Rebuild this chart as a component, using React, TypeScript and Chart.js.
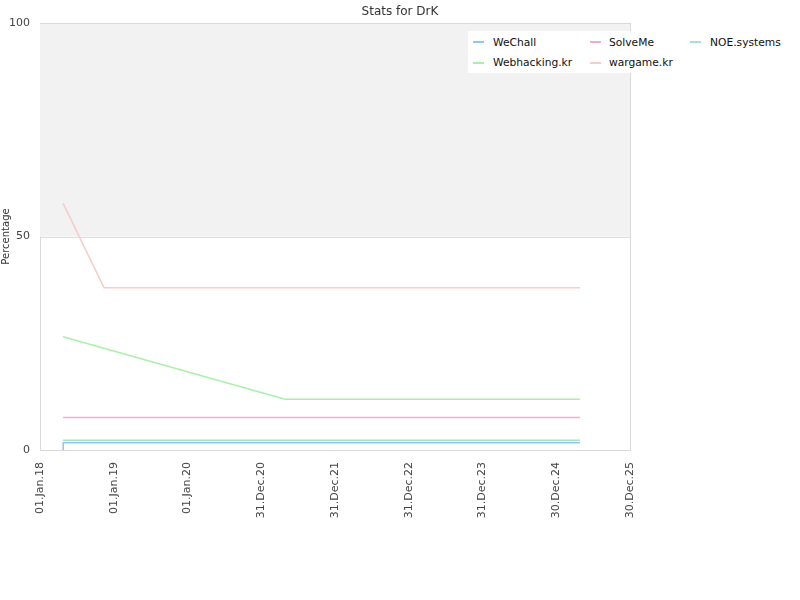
import React, { useEffect, useRef } from "react";
import { Chart, registerables } from "chart.js";

Chart.register(...registerables);

// x values: days since 01.Jan.2018
const seriesNames = ["WeChall", "SolveMe", "NOE.systems", "Webhacking.kr", "wargame.kr"];
const seriesColors = ["#99c4f0", "#f2aad2", "#9ee8c8", "#aaf0a8", "#f7cccc"];

const weChallX = [114, 115, 2672];
const weChallY = [0, 1.7, 1.7];
const solveMeX = [114, 2672];
const solveMeY = [7.6, 7.6];
const noeX = [114, 2672];
const noeY = [2.3, 2.3];
const webhackingX = [114, 1213, 2672];
const webhackingY = [26.5, 11.9, 11.9];
const wargameX = [114, 317, 2672];
const wargameY = [57.8, 38.0, 38.0];

const xTickValues = [0, 365, 730, 1095, 1460, 1825, 2190, 2555, 2920];
const xTickLabels = ["01.Jan.18", "01.Jan.19", "01.Jan.20", "31.Dec.20", "31.Dec.21", "31.Dec.22", "31.Dec.23", "30.Dec.24", "30.Dec.25"];
const yTickValues = [0, 50, 100];

const FONT = "'DejaVu Sans', sans-serif";

function pts(xs: number[], ys: number[]) {
  return xs.map((x, i) => ({ x, y: ys[i] }));
}

const bandPlugin = {
  id: "band",
  beforeDatasetsDraw(chart: any) {
    const { ctx, chartArea, scales } = chart;
    const y50 = scales.y.getPixelForValue(50);
    const y100 = scales.y.getPixelForValue(100);
    ctx.save();
    ctx.fillStyle = "#f2f2f2";
    ctx.fillRect(chartArea.left, y100, chartArea.right - chartArea.left, y50 - y100);
    ctx.strokeStyle = "#dddddd";
    ctx.lineWidth = 1;
    ctx.beginPath();
    ctx.moveTo(chartArea.left, Math.round(y50) + 0.5);
    ctx.lineTo(chartArea.right, Math.round(y50) + 0.5);
    ctx.stroke();
    ctx.restore();
  },
};

export default function App() {
  const ref = useRef<HTMLCanvasElement>(null);
  useEffect(() => {
    document.body.style.margin = "0";
    const all = [
      pts(weChallX, weChallY),
      pts(solveMeX, solveMeY),
      pts(noeX, noeY),
      pts(webhackingX, webhackingY),
      pts(wargameX, wargameY),
    ];
    const chart = new Chart(ref.current!, {
      type: "line",
      data: {
        datasets: all.map((d, i) => ({
          label: seriesNames[i],
          data: d,
          borderColor: seriesColors[i],
          backgroundColor: seriesColors[i],
          borderWidth: 1.6,
          pointRadius: 0,
          tension: 0,
          fill: false,
        })),
      },
      plugins: [bandPlugin],
      options: {
        animation: false,
        responsive: false,
        layout: { padding: { top: 23, right: 170, left: 0, bottom: 0 } },
        plugins: {
          legend: { display: false },
          title: { display: false },
          tooltip: { enabled: false },
        },
        scales: {
          x: {
            type: "linear",
            min: 0,
            max: 2920,
            afterBuildTicks: (scale: any) => {
              scale.ticks = xTickValues.map((v) => ({ value: v }));
            },
            afterFit: (scale: any) => {
              scale.height = 150;
            },
            ticks: {
              minRotation: 90,
              maxRotation: 90,
              autoSkip: false,
              color: "#444",
              font: { family: FONT, size: 11 },
              padding: 12,
              callback: (v: any) => {
                const i = xTickValues.indexOf(Number(v));
                return i >= 0 ? xTickLabels[i] : "";
              },
            },
            grid: { display: false, drawTicks: false },
            border: { display: true, color: "#d9d9d9" },
          },
          y: {
            type: "linear",
            min: 0,
            max: 100,
            afterBuildTicks: (scale: any) => {
              scale.ticks = yTickValues.map((v) => ({ value: v }));
            },
            afterFit: (scale: any) => {
              scale.width = 40;
            },
            ticks: {
              color: "#444",
              font: { family: FONT, size: 11 },
              padding: 10,
            },
            grid: { display: false, drawTicks: false },
            border: { display: true, color: "#d9d9d9" },
            title: {
              display: true,
              text: "Percentage",
              color: "#333",
              font: { family: FONT, size: 10 },
              padding: { top: 0, bottom: 0 },
            },
          },
        },
      },
    } as any);
    return () => chart.destroy();
  }, []);

  const legendItem = (i: number, markerGap: number) => (
    <div key={i} style={{ display: "flex", alignItems: "center", height: 20 }}>
      <span style={{ display: "inline-block", width: 11, height: 2, background: seriesColors[i], marginRight: markerGap }} />
      <span>{seriesNames[i]}</span>
    </div>
  );

  return (
    <div style={{ position: "absolute", left: 0, top: 0, width: 800, height: 600, background: "#fff" }}>
      <canvas ref={ref} width={800} height={600} style={{ position: "absolute", left: 0, top: 0 }} />
      <div style={{ position: "absolute", left: 630, top: 23, width: 1, height: 427, background: "#d9d9d9" }} />
      <div style={{ position: "absolute", left: 40, top: 23, width: 590, height: 1, background: "#d9d9d9" }} />
      <div
        style={{
          position: "absolute",
          left: 0,
          top: 4,
          width: 800,
          textAlign: "center",
          fontFamily: FONT,
          fontSize: 12,
          color: "#333",
        }}
      >
        Stats for DrK
      </div>
      <div
        style={{
          position: "absolute",
          left: 468,
          top: 31,
          width: 332,
          height: 42,
          background: "#fff",
          fontFamily: FONT,
          fontSize: 10.7,
          color: "#111",
          display: "grid",
          gridTemplateColumns: "117px 100px 110px",
          paddingLeft: 5,
          paddingTop: 1,
          boxSizing: "border-box",
        }}
      >
        {legendItem(0, 9)}
        {legendItem(1, 8)}
        {legendItem(2, 9)}
        {legendItem(3, 9)}
        {legendItem(4, 8)}
      </div>
    </div>
  );
}
